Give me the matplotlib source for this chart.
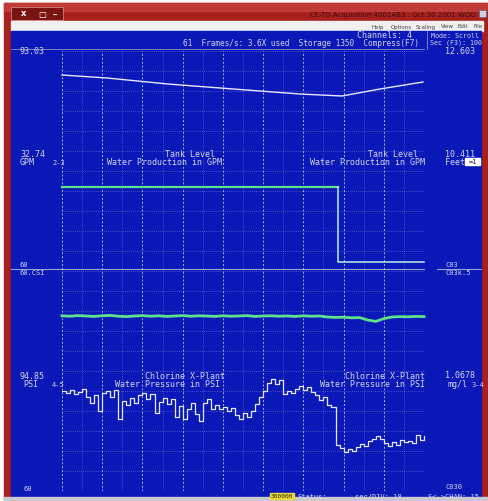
"""Strip-chart acquisition window (mirrored screenshot look-alike)."""
import numpy as np
import matplotlib
matplotlib.use("Agg")
import matplotlib.pyplot as plt
from matplotlib.patches import Rectangle

# ── data: time in seconds, values in screen divisions (0 = bottom grid line) ──
clorine_t = [0, 22.4, 52.7, 78.6, 104.9, 118.3, 139.2, 158.1, 179.5]
clorine_y = [20.8, 20.65, 20.35, 20.15, 19.95, 19.85, 19.75, 20.1, 20.45]

tank_t = [0, 137.2]
tank_y = [15.2, 15.2]
tank_low_t = [137.2, 137.2, 180]
tank_low_y = [15.2, 11.45, 11.45]

flow_y = [8.76, 8.74, 8.77, 8.75, 8.73, 8.76, 8.78, 8.74, 8.72, 8.75, 8.77, 8.74,
          8.76, 8.73, 8.75, 8.77, 8.74, 8.76, 8.75, 8.73, 8.76, 8.74, 8.75, 8.77,
          8.73, 8.75, 8.76, 8.74, 8.75, 8.73, 8.76, 8.74, 8.75, 8.70, 8.68, 8.69,
          8.66, 8.67, 8.55, 8.48, 8.62, 8.70, 8.72, 8.71, 8.73, 8.72]

pressure_y = [5.0, 4.9, 5.05, 4.85, 4.95, 5.1, 4.7, 4.4, 4.8, 4.0, 4.9, 5.0,
              4.7, 5.05, 3.6, 4.5, 4.3, 4.65, 4.4, 4.8, 4.9, 4.6, 4.85, 3.9,
              4.45, 4.65, 4.35, 4.6, 3.7, 4.25, 3.6, 4.1, 4.4, 3.85, 3.5, 4.4,
              4.6, 4.1, 4.3, 4.1, 4.2, 4.0, 4.15, 3.8, 3.6, 3.9, 3.7, 4.0,
              4.35, 4.7, 5.0, 5.4, 5.6, 5.35, 5.55, 4.85, 5.0, 4.9, 5.1, 5.25,
              5.05, 5.2, 4.95, 4.8, 4.55, 4.7, 4.3, 4.2, 2.3, 2.15, 1.95, 2.1,
              2.0, 2.2, 2.35, 2.25, 2.5, 2.6, 2.75, 2.6, 2.4, 2.25, 2.45, 2.3,
              2.55, 2.45, 2.5, 2.4, 2.8, 2.55, 2.75]

# ── colours ──
BLUE = "#0a18b8"
RED = "#a8201c"
TXT = "#d4d6ea"
GREEN = "#5fe08a"
WHITE_LINE = "#e6e8ff"

W, H = 489, 502
fig = plt.figure(figsize=(W / 100, H / 100), dpi=100)
fig.patch.set_facecolor("white")

bg = fig.add_axes([0, 0, 1, 1])
bg.set_xlim(0, W)
bg.set_ylim(H, 0)
bg.axis("off")

# window frame
bg.add_patch(Rectangle((4, 4), 485, 497, color=RED))
bg.add_patch(Rectangle((4, 4), 485, 8, color="#c23a36"))
bg.add_patch(Rectangle((11, 8), 52, 13, facecolor="#7a1410", edgecolor="#d08080", lw=0.6))
bg.add_patch(Rectangle((11, 22), 472, 10, color="#f0f0f0"))
bg.add_patch(Rectangle((11, 32), 470, 466, color=BLUE))
bg.add_patch(Rectangle((4, 498), 485, 4, color="#c8c8d0"))

# window controls
bg.text(24, 14, "x", color="white", fontsize=6, weight="bold", ha="center", va="center")
bg.text(42, 14, "\u25a1", color="white", fontsize=6, ha="center", va="center")
bg.text(55, 15, "\u2013", color="white", fontsize=6, weight="bold", ha="center", va="center")

# title + icon
bg.text(476, 15, "CE-TO Acquisition 4001AB3 : Oct 30 2001 WOO", color="#3a1010",
        fontsize=5, ha="right", va="center")
bg.add_patch(Rectangle((479, 11), 7, 7, facecolor="#d0d0e0", edgecolor="#606080", lw=0.5))

# menu
for word, mx in [("Help", 372), ("Options", 391), ("Scaling", 416),
                 ("View", 441), ("Edit", 458), ("File", 473)]:
    bg.text(mx, 27, word, color="#404040", fontsize=4.0, va="center")

# header rules
bg.plot([11, 424], [50, 50], color="#8890c8", lw=0.6)
bg.plot([427, 427], [32, 50], color="#8890c8", lw=0.6)
bg.plot([11, 424], [270, 270], color="#9aa0d0", lw=0.8)
bg.plot([437, 481], [270, 270], color="#9aa0d0", lw=0.8)

mono = dict(family="DejaVu Sans Mono", color=TXT, fontsize=6, va="center")


def txt(x, y, s, **kw):
    opts = dict(mono)
    opts.update(kw)
    bg.text(x, y, s, **opts)


# header text
txt(431, 36, "Mode: Scroll", fontsize=4.8)
txt(430, 43, "Sec (F3): 100", fontsize=4.8)
txt(445, 52, "12.603")
txt(357, 36, "Channels: 4")
txt(183, 44, "61  Frames/s: 3.6X used  Storage 1350  Compress(F7)", fontsize=5.6)
txt(20, 52, "93.03")

# channel label rows
txt(20, 155, "32.74")
txt(20, 163, "GPM")
txt(52, 163, "2-3", fontsize=5)
txt(165, 155, "Tank Level")
txt(107, 163, "Water Production in GPM")
txt(368, 155, "Tank Level")
txt(310, 163, "Water Production in GPM")
txt(445, 155, "10.411")
txt(445, 163, "Feet")
bg.add_patch(Rectangle((465, 159), 15, 7, color="white"))
bg.text(472.5, 162.5, "=1", family="DejaVu Sans Mono", color="#202040", fontsize=5,
        ha="center", va="center")

txt(20, 265, "60", fontsize=5)
txt(20, 273, "60.CSI", fontsize=5)
txt(445, 265, "C03", fontsize=5)
txt(445, 273, "C03k.5", fontsize=5)

txt(20, 377, "94.85")
txt(23, 385, "PSI")
txt(52, 385, "4-5", fontsize=5)
txt(145, 377, "Chlorine X-Plant")
txt(115, 385, "Water Pressure in PSI")
txt(345, 377, "Chlorine X-Plant")
txt(320, 385, "Water Pressure in PSI")
txt(445, 376, "1.0678")
txt(447, 385, "mg/l")
txt(472, 385, "3-4", fontsize=5)

txt(23, 489, "60", fontsize=5)
txt(445, 487, "C030", fontsize=5)

# status bar
bg.add_patch(Rectangle((270, 494), 24, 6, color="#e8d840"))
bg.text(282, 497, "300000", family="DejaVu Sans Mono", color="#303000", fontsize=4.5,
        ha="center", va="center")
txt(297, 497, "Status:", fontsize=5)
txt(355, 497, "sec/DIV: 18", fontsize=5)
txt(428, 497, "S<->CHAN: 15", fontsize=5)

# ── chart area ──
x0, x1, y0, y1 = 62, 424, 52, 492
ax = fig.add_axes([x0 / W, 1 - y1 / H, (x1 - x0) / W, (y1 - y0) / H])
ax.set_facecolor("none")
ax.set_xlim(0, 180)
ax.set_ylim(0, 22)
for s in ax.spines.values():
    s.set_visible(False)
ax.set_xticks(np.arange(0, 181, 20))
ax.set_xticks(np.arange(10, 181, 20), minor=True)
ax.set_yticks(np.arange(0, 23, 1))
ax.tick_params(which="both", length=0, labelbottom=False, labelleft=False)
ax.grid(which="major", axis="x", color="#c8ccf0", lw=0.7, ls=(0, (2, 2)), alpha=0.85)
ax.grid(which="minor", axis="x", color="#a0a8e8", lw=0.5, ls=(0, (1, 2)), alpha=0.7)
ax.grid(which="major", axis="y", color="#a0a8e8", lw=0.5, ls=(0, (1, 2)), alpha=0.75)
ax.set_axisbelow(True)

ax.plot(clorine_t, clorine_y, color=WHITE_LINE, lw=1.0, clip_on=False)
ax.plot(tank_t, tank_y, color=GREEN, lw=1.6, clip_on=False)
ax.plot(tank_low_t, tank_low_y, color="#b8f0e8", lw=1.1, clip_on=False)
flow_t = np.linspace(0, 180, len(flow_y))
ax.plot(flow_t, flow_y, color=GREEN, lw=2.0, clip_on=False)
pressure_t = np.linspace(0, 180, len(pressure_y))
ax.plot(pressure_t, pressure_y, color=WHITE_LINE, lw=0.9, drawstyle="steps-post",
        clip_on=False)

fig.savefig("out.png", dpi=100)
